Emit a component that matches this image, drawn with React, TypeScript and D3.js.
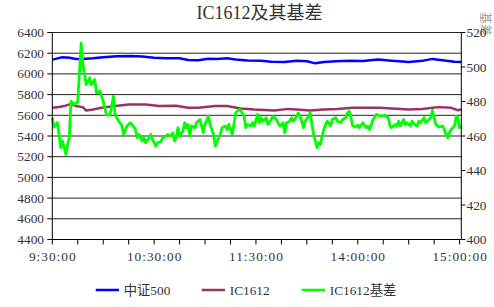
import React from 'react';
import * as d3 from 'd3';

const title = 'IC1612及其基差';
const rightAxisTitle = '基差';
const seriesNames = ['中证500', 'IC1612', 'IC1612基差'];
const seriesColors = ['#0000FF', '#993366', '#00FF00'];

const timeLabels = ['9:30:00', '10:30:00', '11:30:00', '14:00:00', '15:00:00'];
const timeLabelMinutes = [0, 60, 120, 180, 240];
const leftTicks = [4400, 4600, 4800, 5000, 5200, 5400, 5600, 5800, 6000, 6200, 6400];
const rightTicks = [400, 420, 440, 460, 480, 500, 520];

const csiMinutes = [0, 3, 6, 10, 14, 18, 24, 30, 38, 46, 53, 60, 67, 75, 80, 86, 92, 97, 103, 108, 115, 123, 129, 137, 144, 150, 155, 160, 167, 175, 183, 192, 200, 210, 218, 224, 231, 237, 241];
const csiValues = [6138, 6150, 6160, 6155, 6145, 6145, 6152, 6162, 6170, 6172, 6168, 6155, 6152, 6152, 6135, 6132, 6146, 6145, 6152, 6140, 6130, 6128, 6118, 6116, 6126, 6122, 6102, 6115, 6122, 6128, 6124, 6140, 6128, 6116, 6126, 6145, 6130, 6118, 6115];

const icMinutes = [0, 4, 7, 11, 14, 18, 20, 24, 29, 37, 45, 51, 55, 63, 73, 80, 86, 96, 103, 111, 119, 131, 139, 144, 152, 160, 168, 177, 183, 193, 200, 210, 218, 224, 228, 235, 239, 241];
const icValues = [5672, 5680, 5689, 5711, 5689, 5679, 5646, 5656, 5672, 5689, 5704, 5704, 5704, 5689, 5692, 5672, 5672, 5689, 5689, 5666, 5656, 5646, 5662, 5656, 5646, 5656, 5660, 5672, 5672, 5672, 5666, 5656, 5662, 5672, 5679, 5672, 5649, 5656];

const basisMinutes = [0, 1, 3, 4, 5, 6, 8, 9, 10, 11, 13, 15, 17, 18, 20, 22, 23, 25, 26, 28, 30, 32, 34, 36, 37, 39, 41, 42, 44, 46,
  47, 49, 50, 51, 53, 54, 55, 57, 58, 59, 61, 62, 64, 65, 67, 68, 70, 71, 72, 73, 74, 75, 77, 78, 79, 80, 81, 82, 84, 85, 87, 89, 90, 92, 93, 95, 96,
  98, 99, 100, 102, 103, 104, 106, 107, 108, 110, 111, 113, 114, 115, 117, 118, 119, 121, 122, 123, 124, 126, 127, 129, 130, 132, 133, 134, 136, 137, 138, 140, 141, 142,
  144, 145, 147, 148, 149, 151, 152, 153, 154, 155, 156, 157, 158, 159, 160, 161, 162, 164, 165, 167, 168, 170, 171, 173, 174, 175, 176, 177, 179, 180, 181, 183, 185, 186, 187, 189, 191,
  192, 194, 196, 198, 199, 200, 202, 203, 204, 205, 207, 208, 209, 211, 212, 213, 215, 216, 217, 219, 220, 222, 223, 224, 225, 226, 228, 230, 231, 232, 233, 234, 235, 237, 238, 239, 240, 241];
const basisValues = [470.6, 465.2, 467.7, 460.9, 453.2, 457.1, 449.3, 455.1, 459.0, 480.2, 478.2, 479.8, 513.9, 501.4, 489.8, 493.7, 489.8, 492.7, 485.0, 486.0, 480.2, 472.1, 472.1, 483.1, 472.5, 468.6, 466.3, 460.9, 465.8, 467.7,
  466.7, 463.8, 459.0, 460.9, 457.1, 459.0, 456.1, 459.0, 460.9, 458.0, 454.2, 456.1, 456.7, 459.0, 460.0, 460.9, 460.0, 461.9, 457.1, 459.0, 464.8, 460.0, 462.9, 467.7, 464.8, 466.7, 460.0, 465.8, 464.8, 467.7, 469.6, 461.9, 466.7, 471.5, 466.7, 460.9, 454.2,
  459.0, 460.9, 464.8, 465.8, 463.8, 466.7, 460.9, 466.7, 473.4, 475.4, 474.8, 471.5, 464.8, 466.7, 465.8, 467.7, 465.8, 472.5, 467.7, 470.6, 468.6, 470.6, 466.7, 469.6, 471.5, 469.6, 467.7, 465.8, 467.7, 461.9, 467.7, 468.6, 470.6, 468.6,
  471.5, 473.4, 468.6, 464.8, 468.6, 471.5, 473.4, 466.7, 460.9, 457.1, 453.2, 456.1, 455.1, 460.0, 463.8, 466.7, 468.6, 465.8, 469.6, 470.6, 468.6, 467.7, 469.6, 470.6, 473.4, 474.4, 470.6, 465.8, 465.2, 466.3, 464.8, 467.7, 464.8, 465.8, 463.8, 469.6, 472.5,
  472.1, 471.5, 471.9, 470.6, 465.8, 464.8, 466.7, 465.8, 468.6, 465.8, 469.6, 466.7, 467.7, 465.8, 468.6, 467.1, 465.8, 468.6, 467.7, 470.6, 467.7, 469.6, 470.6, 474.8, 470.6, 466.7, 465.2, 465.8, 463.8, 460.9, 459.0, 461.9, 463.8, 465.8, 471.5, 470.6, 464.8, 465.8];

const W = 494;
const H = 307;
const plotLeft = 52.3;
const plotRight = 461.3;
const plotTop = 32.5;
const plotBottom = 239.5;
const font = '"Liberation Serif", "Noto Sans CJK SC", serif';

export default function App() {
  const x = d3.scaleLinear().domain([0, 241]).range([plotLeft, plotRight]);
  const yL = d3.scaleLinear().domain([4400, 6400]).range([plotBottom, plotTop]);
  const yR = d3.scaleLinear().domain([400, 520]).range([plotBottom, plotTop]);

  const lineL = d3.line<[number, number]>().x(d => x(d[0])).y(d => yL(d[1]));
  const lineR = d3.line<[number, number]>().x(d => x(d[0])).y(d => yR(d[1]));

  const csi = csiMinutes.map((m, i) => [m, csiValues[i]] as [number, number]);
  const ic = icMinutes.map((m, i) => [m, icValues[i]] as [number, number]);
  const basis = basisMinutes.map((m, i) => [m, basisValues[i]] as [number, number]);

  const xTicks = d3.range(0, 241, 15);

  const legendX = [95.7, 201.7, 301.7];
  const legendY = 290;

  return (
    <svg width={W} height={H} style={{ position: 'absolute', left: 0, top: 0, background: '#fff' }} fontFamily={font}>
      <rect x={0} y={0} width={W} height={H} fill="#fff" />
      <text x={259.5} y={18.5} textAnchor="middle" fontSize={18} fill="#333">{title}</text>

      {/* gridlines */}
      {leftTicks.filter(t => t !== 4400).map(t => (
        <line key={'g' + t} x1={plotLeft} x2={plotRight} y1={yL(t)} y2={yL(t)} stroke="#222" strokeWidth={1} />
      ))}

      {/* series */}
      <path d={lineL(csi) || ''} fill="none" stroke={seriesColors[0]} strokeWidth={2.5} strokeLinejoin="round" />
      <path d={lineL(ic) || ''} fill="none" stroke={seriesColors[1]} strokeWidth={2.5} strokeLinejoin="round" />
      <path d={lineR(basis) || ''} fill="none" stroke={seriesColors[2]} strokeWidth={2.8} strokeLinejoin="round" />

      {/* axes */}
      <line x1={plotLeft} x2={plotLeft} y1={plotTop} y2={plotBottom} stroke="#000" />
      <line x1={plotRight} x2={plotRight} y1={plotTop} y2={plotBottom} stroke="#000" />
      <line x1={plotLeft} x2={plotRight} y1={plotBottom} y2={plotBottom} stroke="#000" />

      {leftTicks.map(t => (
        <g key={'l' + t}>
          <line x1={plotLeft - 5} x2={plotLeft} y1={yL(t)} y2={yL(t)} stroke="#000" />
          <text x={44} y={yL(t)} dy="0.34em" textAnchor="end" fontSize={13.33} fill="#333">{t}</text>
        </g>
      ))}
      <text transform={`translate(485,24) rotate(90)`} textAnchor="middle" fontSize={12} fill="#999" dy="0.35em">{rightAxisTitle}</text>
      {rightTicks.map(t => (
        <g key={'r' + t}>
          <line x1={plotRight} x2={plotRight + 4} y1={yR(t)} y2={yR(t)} stroke="#000" />
          <text x={466.5} y={yR(t)} dy="0.34em" textAnchor="start" fontSize={13.33} fill="#333">{t}</text>
        </g>
      ))}

      {xTicks.map(t => (
        <line key={'x' + t} x1={x(t)} x2={x(t)} y1={plotBottom} y2={plotBottom + 5} stroke="#000" />
      ))}
      {timeLabels.map((lab, i) => (
        <text key={lab} x={x(timeLabelMinutes[i]) + 0.5} y={261} textAnchor="middle" fontSize={13.33} letterSpacing={1} fill="#333">{lab}</text>
      ))}

      {/* legend */}
      {seriesNames.map((name, i) => (
        <g key={name}>
          <line x1={legendX[i]} x2={legendX[i] + 23.3} y1={legendY} y2={legendY} stroke={seriesColors[i]} strokeWidth={2.5} />
          <text x={legendX[i] + 28} y={legendY + 4.8} fontSize={13.33} fill="#333">{name}</text>
        </g>
      ))}
    </svg>
  );
}
